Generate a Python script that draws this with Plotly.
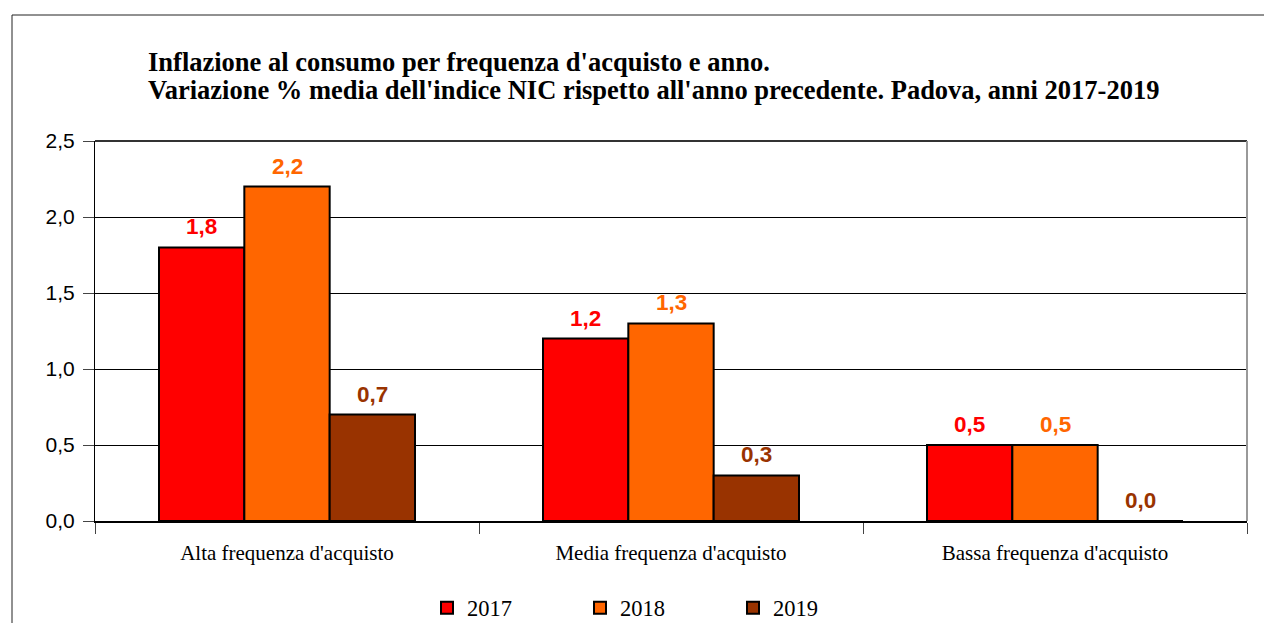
import plotly.graph_objects as go

categories = ["Alta frequenza d'acquisto", "Media frequenza d'acquisto", "Bassa frequenza d'acquisto"]
years = ["2017", "2018", "2019"]
v2017 = [1.8, 1.2, 0.5]
v2018 = [2.2, 1.3, 0.5]
v2019 = [0.7, 0.3, 0.0]
series = [v2017, v2018, v2019]
colors = ["#FF0000", "#FF6600", "#993300"]

# page is offset by the 8px body margin; figure coords = page coords - 8
W, H = 1256, 615
L, T = 87, 133
PW, PH = 1152, 380

fig = go.Figure()
for name, vals, col in zip(years, series, colors):
    fig.add_trace(go.Bar(
        x=categories, y=vals, name=name,
        marker=dict(color=col, line=dict(color="black", width=2)),
    ))

bar_px = 85.5
for i, (vals, col) in enumerate(zip(series, colors)):
    for c, v in zip(categories, vals):
        fig.add_annotation(
            x=c, y=v, xref="x", yref="y",
            text=f"{v:.1f}".replace(".", ","),
            showarrow=False, xshift=(i - 1) * bar_px, yshift=6,
            yanchor="bottom", xanchor="center",
            font=dict(family="Liberation Sans, Arial", size=22.5, color=col, weight="bold"),
        )

title_lines = ["Inflazione al consumo per frequenza d'acquisto e anno.",
               "Variazione % media dell'indice NIC rispetto all'anno precedente. Padova, anni 2017-2019"]
for k, (line, cy) in enumerate(zip(title_lines, [62, 90])):
    fig.add_annotation(
        xref="paper", yref="paper", x=(146 - 8 - L) / PW, y=(T + PH - (cy - 8)) / PH,
        xanchor="left", yanchor="middle", align="left", showarrow=False,
        text=line,
        font=dict(family="Liberation Serif, Times New Roman", size=26.5, color="black", weight="bold"),
    )

# outer frame
fig.add_shape(type="rect", xref="paper", yref="paper",
              x0=(12 - 8 - L) / PW, y0=-0.6, x1=1.2, y1=(T + PH - (15 - 8)) / PH,
              line=dict(color="#222222", width=1), layer="below")
# plot area top/right borders
fig.add_shape(type="line", xref="paper", yref="paper", x0=0, x1=1, y0=1, y1=1,
              line=dict(color="#333333", width=2))
fig.add_shape(type="line", xref="paper", yref="paper", x0=1, x1=1, y0=0, y1=1,
              line=dict(color="#999999", width=2))

fig.update_layout(
    width=W, height=H,
    margin=dict(l=L, r=W - L - PW, t=T, b=H - T - PH, autoexpand=False),
    paper_bgcolor="white", plot_bgcolor="white",
    separators=",.",
    barmode="group", bargap=1/3, bargroupgap=0,
    showlegend=True,
    legend=dict(
        orientation="h", x=(427 - 8 - L) / PW, xanchor="left",
        y=-(608 - 521) / PH, yanchor="middle",
        font=dict(family="Liberation Serif, Times New Roman", size=22.5, color="black"),
        entrywidth=108, entrywidthmode="pixels", traceorder="normal",
    ),
    xaxis=dict(
        showline=True, linecolor="black", linewidth=2,
        ticks="outside", tickson="boundaries", ticklen=11, tickcolor="#444444", tickwidth=1,
        ticklabelstandoff=12,
        tickfont=dict(family="Liberation Serif, Times New Roman", size=21, color="black"),
        showgrid=False,
    ),
    yaxis=dict(
        range=[0, 2.5], dtick=0.5, tickformat=".1f",
        showline=True, linecolor="black", linewidth=1,
        ticks="outside", ticklen=11, tickcolor="#444444",
        ticklabelstandoff=4,
        showgrid=True, gridcolor="black", gridwidth=1,
        zeroline=False,
        tickfont=dict(family="Liberation Sans, Arial", size=21, color="black"),
    ),
)

fig.write_html("out.html")
